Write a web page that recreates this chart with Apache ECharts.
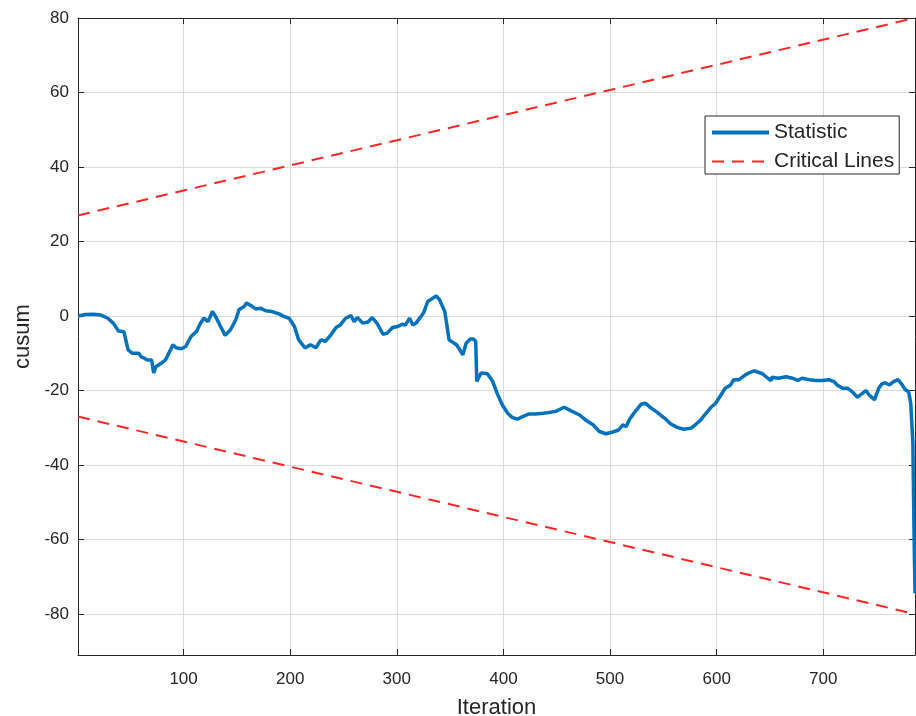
<!DOCTYPE html>
<html>
<head>
<meta charset="utf-8">
<script src="https://cdn.jsdelivr.net/npm/echarts@6/dist/echarts.min.js"></script>
<style>
  html, body { margin: 0; padding: 0; background: #fff; }
  #chart { width: 916px; height: 716px; }
</style>
</head>
<body>
<div id="chart"></div>
<script>
// cusum statistic
var statIter = [1, 8, 16, 22, 29, 34, 39, 44, 48, 52, 58, 60, 63, 66, 70, 72, 74, 79, 83, 87,
  90, 93, 98, 102, 107, 112, 116, 119, 123, 127, 130, 134, 139, 144, 149, 152, 157, 159, 163, 168,
  172, 177, 183, 190, 194, 199, 204, 208, 214, 219, 224, 229, 233, 238, 243, 247, 252, 257, 260, 263,
  268, 273, 277, 282, 287, 291, 296, 301, 305, 308, 312, 315, 318, 325, 329, 337, 340, 345, 349, 356,
  362, 365, 369, 372, 374, 375, 379, 385, 390, 394, 399, 404, 408, 413, 418, 424, 430, 437, 443, 449,
  457, 463, 471, 477, 484, 490, 496, 502, 508, 512, 515, 519, 524, 529, 533, 538, 544, 551, 557, 563,
  569, 576, 580, 585, 590, 594, 599, 604, 608, 613, 616, 621, 626, 630, 635, 637, 643, 648, 651, 652,
  658, 665, 671, 676, 680, 687, 693, 699, 705, 710, 713, 718, 723, 727, 732, 737, 740, 743, 748, 752,
  755, 758, 762, 766, 770, 774, 777, 780, 782, 784, 785, 786];
var statValue = [0, 0.4, 0.5, 0.3, -0.6, -1.9, -4.0, -4.2, -9.1, -10.0, -10.0, -10.9, -11.3, -11.8, -11.8, -15.3, -13.6, -12.7, -11.8, -9.5,
  -7.7, -8.5, -8.8, -8.2, -5.5, -4.2, -1.9, -0.6, -1.5, 1.2, -0.1, -2.4, -5.2, -3.7, -1.0, 1.7, 2.6, 3.5, 2.8, 1.9,
  2.1, 1.4, 1.2, 0.5, -0.1, -0.6, -2.8, -6.4, -8.6, -7.7, -8.5, -6.4, -6.8, -5.1, -3.1, -2.4, -0.6, 0.1, -1.5, -0.4,
  -1.9, -1.6, -0.4, -2.2, -4.9, -4.6, -3.1, -2.8, -2.2, -2.4, -0.6, -2.4, -1.9, 0.8, 3.9, 5.4, 4.4, 1.2, -6.4, -7.7,
  -10.4, -7.3, -6.2, -6.2, -6.8, -17.6, -15.3, -15.5, -17.6, -20.7, -23.9, -26.1, -27.2, -27.7, -27.0, -26.3, -26.3, -26.1, -25.9, -25.6,
  -24.5, -25.4, -26.5, -27.9, -29.2, -31.0, -31.6, -31.2, -30.6, -29.2, -29.7, -27.4, -25.5, -23.7, -23.4, -24.6, -25.8, -27.4, -29.0, -29.9,
  -30.4, -30.1, -29.2, -27.9, -26.1, -24.7, -23.4, -21.2, -19.4, -18.5, -17.1, -17.1, -16.0, -15.3, -14.7, -14.9, -15.5, -16.7, -17.3, -16.4,
  -16.7, -16.3, -16.7, -17.3, -16.7, -17.1, -17.3, -17.3, -17.1, -17.6, -18.5, -19.4, -19.4, -20.3, -21.8, -20.7, -20.0, -21.2, -22.5, -19.4,
  -18.2, -17.9, -18.5, -17.6, -17.1, -18.5, -19.8, -20.3, -23.4, -34.1, -56.5, -74.4];

// critical lines (end points)
var critIter = [1, 786];
var upperValue = [27, 80];
var lowerValue = [-27, -80];

var xRange = [1, 786];
var yRange = [-91, 80];

function pairs(xs, ys) {
  return xs.map(function (x, i) { return [x, ys[i]]; });
}

var font = '"Liberation Sans", Arial, Helvetica, sans-serif';
var ink = '#262626';
var blue = '#0072BD';
var red = '#ff2626';

var myChart = echarts.init(document.getElementById('chart'));
var option = {
  backgroundColor: '#fff',
  animation: false,
  textStyle: { fontFamily: font, color: ink },
  grid: { left: 78, right: 1, top: 18, bottom: 61, containLabel: false, outerBoundsMode: 'none' },
  legend: {
    orient: 'vertical',
    left: 705,
    top: 116,
    padding: [6, 5, 2, 5],
    itemGap: 8,
    itemWidth: 57,
    itemHeight: 21,
    backgroundColor: '#fff',
    borderColor: ink,
    borderWidth: 1,
    borderRadius: 0,
    itemStyle: { opacity: 0 },
    textStyle: { fontFamily: font, fontSize: 21, color: ink, lineHeight: 21 },
    data: [
      { name: 'Statistic', lineStyle: { width: 4 } },
      { name: 'Critical Lines', lineStyle: { width: 2 } }
    ]
  },
  xAxis: [{
    type: 'value',
    min: xRange[0],
    max: xRange[1],
    splitNumber: 8,
    name: 'Iteration',
    nameLocation: 'middle',
    nameGap: 42,
    nameTextStyle: { fontSize: 22, color: ink, fontFamily: font },
    axisLine: { onZero: false, lineStyle: { color: ink, width: 1 } },
    axisTick: { inside: true, length: 6, lineStyle: { color: ink } },
    axisLabel: { fontSize: 17, color: ink, margin: 16, showMinLabel: false, showMaxLabel: false },
    splitLine: { show: true, lineStyle: { color: '#dadada', width: 1 } }
  }, {
    type: 'value',
    position: 'top',
    min: xRange[0],
    max: xRange[1],
    splitNumber: 8,
    axisLine: { onZero: false, lineStyle: { color: ink, width: 1 } },
    axisTick: { inside: true, length: 6, lineStyle: { color: ink } },
    axisLabel: { show: false },
    splitLine: { show: false }
  }],
  yAxis: [{
    type: 'value',
    min: yRange[0],
    max: yRange[1],
    splitNumber: 8,
    name: 'cusum',
    nameLocation: 'middle',
    nameGap: 39,
    nameTextStyle: { fontSize: 22, color: ink, fontFamily: font },
    axisLine: { show: true, onZero: false, lineStyle: { color: ink, width: 1 } },
    axisTick: { show: true, inside: true, length: 6, lineStyle: { color: ink } },
    axisLabel: { fontSize: 17, color: ink, margin: 9, showMinLabel: false },
    splitLine: { show: true, lineStyle: { color: '#dadada', width: 1 } }
  }, {
    type: 'value',
    position: 'right',
    min: yRange[0],
    max: yRange[1],
    splitNumber: 8,
    axisLine: { show: true, onZero: false, lineStyle: { color: ink, width: 1 } },
    axisTick: { show: true, inside: true, length: 6, lineStyle: { color: ink } },
    axisLabel: { show: false },
    splitLine: { show: false }
  }],
  series: [
    {
      name: 'Statistic',
      type: 'line',
      symbol: 'none',
      data: pairs(statIter, statValue),
      lineStyle: { color: blue, width: 3.5 },
      itemStyle: { color: blue },
      z: 3
    },
    {
      name: 'Critical Lines',
      type: 'line',
      symbol: 'none',
      data: pairs(critIter, upperValue),
      lineStyle: { color: red, width: 2, type: [12, 8] },
      itemStyle: { color: red },
      z: 4
    },
    {
      name: 'Critical Lines',
      type: 'line',
      symbol: 'none',
      data: pairs(critIter, lowerValue),
      lineStyle: { color: red, width: 2, type: [12, 8] },
      itemStyle: { color: red },
      z: 4
    }
  ]
};
myChart.setOption(option);
</script>
</body>
</html>
